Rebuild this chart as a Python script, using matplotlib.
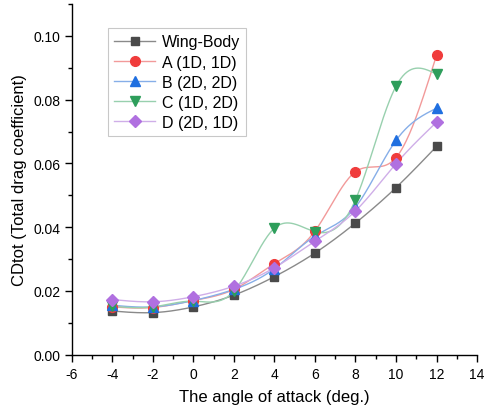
import numpy as np
import matplotlib
matplotlib.use("Agg")
import matplotlib.pyplot as plt
from matplotlib.ticker import MultipleLocator

# ================= 数据 =================
aoa = [-4, -2, 0, 2, 4, 6, 8, 10, 12]
wing_body = [0.0137, 0.0132, 0.0150, 0.0187, 0.0245, 0.0319, 0.0413, 0.0524, 0.0653]
case_a = [0.0150, 0.0148, 0.0170, 0.0205, 0.0286, 0.0388, 0.0574, 0.0618, 0.0939]
case_b = [0.0155, 0.0150, 0.0170, 0.0205, 0.0270, 0.0372, 0.0463, 0.0672, 0.0773]
case_c = [0.0152, 0.0150, 0.0168, 0.0200, 0.0397, 0.0386, 0.0486, 0.0842, 0.0880]
case_d = [0.0173, 0.0166, 0.0182, 0.0215, 0.0273, 0.0356, 0.0451, 0.0599, 0.0729]

labels = ["Wing-Body", "A (1D, 1D)", "B (2D, 2D)", "C (1D, 2D)", "D (2D, 1D)"]


def spline_curve(x, y, n=300):
    """自然三次样条，只用于画平滑连线"""
    x = np.asarray(x, float)
    y = np.asarray(y, float)
    k = len(x)
    h = np.diff(x)
    A = np.zeros((k, k))
    r = np.zeros(k)
    A[0, 0] = A[-1, -1] = 1
    for i in range(1, k - 1):
        A[i, i - 1] = h[i - 1]
        A[i, i] = 2 * (h[i - 1] + h[i])
        A[i, i + 1] = h[i]
        r[i] = 3 * ((y[i + 1] - y[i]) / h[i] - (y[i] - y[i - 1]) / h[i - 1])
    c = np.linalg.solve(A, r)
    xs = np.linspace(x[0], x[-1], n)
    idx = np.clip(np.searchsorted(x, xs) - 1, 0, k - 2)
    dx = xs - x[idx]
    b = (y[idx + 1] - y[idx]) / h[idx] - h[idx] * (2 * c[idx] + c[idx + 1]) / 3
    d = (c[idx + 1] - c[idx]) / (3 * h[idx])
    ys = y[idx] + b * dx + c[idx] * dx ** 2 + d * dx ** 3
    return xs, ys


plt.rcParams['font.family'] = ['Liberation Sans', 'DejaVu Sans']
plt.rcParams['axes.unicode_minus'] = False

fig = plt.figure(figsize=(4.91, 4.14), dpi=100)
ax = fig.add_axes([0.1466, 0.1408, 0.8249, 0.8472])

series = [wing_body, case_a, case_b, case_c, case_d]
marker_colors = ['#4a4a4a', '#f03c3c', '#1f6fe0', '#2e9e5b', '#b070e0']
line_colors = ['#8a8a8a', '#f29a9a', '#86aee8', '#98d0ae', '#cfaee8']
markers = ['s', 'o', '^', 'v', 'D']
msizes = [6, 7, 7.5, 7.5, 6.5]

handles = []
for vals, mc, lc, mk, ms, lab in zip(series, marker_colors, line_colors, markers, msizes, labels):
    xs, ys = spline_curve(aoa, vals)
    ax.plot(xs, ys, color=lc, lw=1.0, zorder=2)
    ax.plot(aoa, vals, linestyle='none', marker=mk, ms=ms, color=mc, mec=mc, zorder=3)
    h, = ax.plot([], [], color=lc, lw=1.0, marker=mk, ms=ms, mfc=mc, mec=mc, label=lab)
    handles.append(h)

ax.set_xlim(-6, 14)
ax.set_ylim(0, 0.11)
ax.xaxis.set_major_locator(MultipleLocator(2))
ax.xaxis.set_minor_locator(MultipleLocator(1))
ax.yaxis.set_major_locator(MultipleLocator(0.02))
ax.yaxis.set_minor_locator(MultipleLocator(0.01))
ax.yaxis.set_major_formatter(matplotlib.ticker.FormatStrFormatter('%.2f'))
ax.spines['top'].set_visible(False)
ax.spines['right'].set_visible(False)
for s in ['left', 'bottom']:
    ax.spines[s].set_linewidth(1.0)
ax.tick_params(which='major', direction='out', length=5, width=1, labelsize=10)
ax.tick_params(which='minor', direction='out', length=3, width=1)

ax.set_xlabel('The angle of attack (deg.)', fontsize=12, labelpad=6)
ax.set_ylabel('CDtot (Total drag coefficient)', fontsize=12, labelpad=4)

leg = ax.legend(handles=handles, loc='upper left', bbox_to_anchor=(0.068, 0.954),
                fontsize=11.5, frameon=True, fancybox=False, edgecolor='#bbbbbb',
                handlelength=2.6, handletextpad=0.4, borderpad=0.4, labelspacing=0.32)
leg.get_frame().set_linewidth(0.8)

fig.savefig('out.png', dpi=100)
